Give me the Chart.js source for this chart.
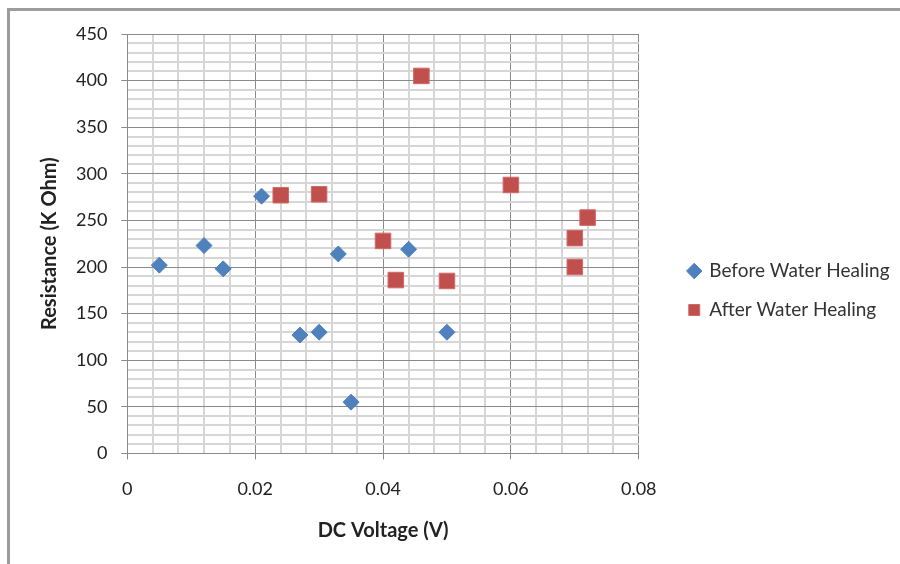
<!DOCTYPE html>
<html>
<head>
<meta charset="utf-8">
<script src="https://cdn.jsdelivr.net/npm/chart.js@4"></script>
<style>
  html, body { margin: 0; padding: 0; background: #fff; }
  #wrap { position: relative; width: 900px; height: 564px; overflow: hidden; }
  #frame { position: absolute; left: 7px; top: 8px; right: -10px; bottom: -10px;
           border-left: 3px solid #9c9c9c; border-top: 3px solid #9c9c9c; }
  canvas { position: absolute; left: 0; top: 0; }
</style>
</head>
<body>
<div id="wrap">
  <div id="frame"></div>
  <canvas id="myChart" width="900" height="564"></canvas>
</div>
<script>
// tensión DC (V) y resistencia (K Ohm)
const voltajeAntes = [0.005, 0.012, 0.015, 0.021, 0.027, 0.030, 0.033, 0.035, 0.044, 0.050];
const resistenciaAntes = [202, 223, 198, 276, 127, 130, 214, 55, 219, 130];

const voltajeDespues = [0.024, 0.030, 0.040, 0.042, 0.046, 0.050, 0.060, 0.070, 0.070, 0.072];
const resistenciaDespues = [277, 278, 228, 186, 405, 185, 288, 231, 200, 253];

const etiquetasX = [0, 0.02, 0.04, 0.06, 0.08];
const etiquetasY = [0, 50, 100, 150, 200, 250, 300, 350, 400, 450];

function puntos(xs, ys) {
    return xs.map((x, i) => ({ x: x, y: ys[i] }));
}

function esMayor(v, lista) {
    return lista.some(m => Math.abs(m - v) < 1e-9);
}

const fuente = 'Lato, "Open Sans", sans-serif';
const gris = '#8a8a8a';
const grisClaro = '#d6d6d6';

// separa la leyenda del área del gráfico
const moverLeyenda = {
    id: 'moverLeyenda',
    afterLayout(chart) {
        const lg = chart.legend;
        lg.left = chart.chartArea.right + 30;
        lg.right = chart.width;
    }
};

document.addEventListener('DOMContentLoaded', () => {
    const ctx = document.getElementById('myChart').getContext('2d');
    new Chart(ctx, {
        type: 'scatter',
        data: {
            datasets: [{
                label: 'Before Water Healing',
                data: puntos(voltajeAntes, resistenciaAntes),
                pointStyle: 'rectRot',
                pointRadius: 8,
                pointHoverRadius: 8,
                backgroundColor: '#4F81BD',
                borderColor: '#4F81BD',
                borderWidth: 1
            }, {
                label: 'After Water Healing',
                data: puntos(voltajeDespues, resistenciaDespues),
                pointStyle: 'rect',
                pointRadius: 11,
                pointHoverRadius: 11,
                backgroundColor: '#C0504D',
                borderColor: '#D06A66',
                borderWidth: 1
            }]
        },
        plugins: [moverLeyenda],
        options: {
            responsive: false,
            animation: false,
            layout: { padding: { left: 20, top: 34, right: 55, bottom: 17 } },
            plugins: {
                tooltip: { enabled: false },
                legend: {
                    position: 'right',
                    labels: {
                        usePointStyle: true,
                        boxWidth: 11,
                        boxHeight: 11,
                        padding: 20,
                        color: '#333',
                        font: { family: fuente, size: 19 }
                    }
                }
            },
            scales: {
                x: {
                    type: 'linear',
                    min: 0,
                    max: 0.08,
                    ticks: {
                        stepSize: 0.004,
                        autoSkip: false,
                        maxRotation: 0,
                        padding: 19,
                        color: '#222',
                        font: { family: fuente, size: 18 },
                        callback: v => esMayor(v, etiquetasX) ? String(Math.round(v * 100) / 100) : ''
                    },
                    grid: {
                        color: c => esMayor(c.tick.value, etiquetasX) ? gris : grisClaro,
                        lineWidth: c => esMayor(c.tick.value, etiquetasX) ? 1 : 2,
                        tickColor: c => esMayor(c.tick.value, etiquetasX) ? gris : 'rgba(0,0,0,0)',
                        tickLength: 6
                    },
                    border: { color: gris },
                    title: {
                        display: true,
                        text: 'DC Voltage (V)',
                        color: '#222',
                        padding: { top: 0, bottom: 4 },
                        font: { family: fuente, size: 20, weight: 'bold' }
                    }
                },
                y: {
                    min: 0,
                    max: 450,
                    ticks: {
                        stepSize: 10,
                        autoSkip: false,
                        padding: 14,
                        color: '#222',
                        font: { family: fuente, size: 18 },
                        callback: v => esMayor(v, etiquetasY) ? String(v) : ''
                    },
                    grid: {
                        color: c => esMayor(c.tick.value, etiquetasY) ? gris : grisClaro,
                        lineWidth: c => esMayor(c.tick.value, etiquetasY) ? 1 : 2,
                        tickColor: c => esMayor(c.tick.value, etiquetasY) ? gris : 'rgba(0,0,0,0)',
                        tickLength: 6
                    },
                    border: { color: gris },
                    title: {
                        display: true,
                        text: 'Resistance (K Ohm)',
                        color: '#222',
                        padding: { top: 18, bottom: 0 },
                        font: { family: fuente, size: 20, weight: 'bold' }
                    }
                }
            }
        }
    });
});
</script>
</body>
</html>
